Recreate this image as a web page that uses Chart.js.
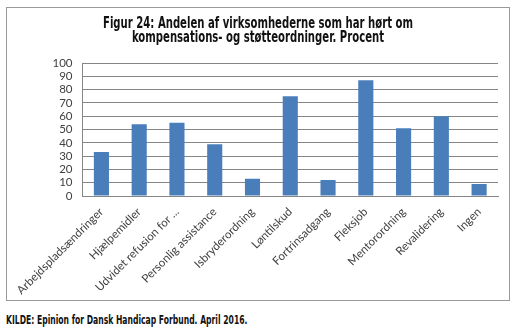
<!DOCTYPE html>
<html>
<head>
<meta charset="utf-8">
<script src="https://cdn.jsdelivr.net/npm/chart.js@4/dist/chart.umd.min.js"></script>
<style>
  html, body { margin: 0; padding: 0; background: #fff; }
  body { width: 519px; height: 328px; position: relative; overflow: hidden; }
  #frame { position: absolute; left: 6px; top: 7px; width: 502px; height: 292px; border: 1px solid #9a9a9a; }
  #frame canvas { position: absolute; left: 0; top: 0; }
  #source { position: absolute; left: 6px; top: 312px; font: bold 12.5px "DejaVu Sans Condensed", "DejaVu Sans", sans-serif; color: #111;
            white-space: nowrap; transform: scaleX(0.68); transform-origin: 0 0; }
</style>
</head>
<body>
<div id="frame"><canvas id="c" width="502" height="292"></canvas></div>
<div id="source">KILDE: Epinion for Dansk Handicap Forbund. April 2016.</div>
<script>
// Kendskab til ordninger (andel af virksomheder, procent)
const categories = [
  "Arbejdspladsændringer",
  "Hjælpemidler",
  "Udvidet refusion for ...",
  "Personlig assistance",
  "Isbryderordning",
  "Løntilskud",
  "Fortrinsadgang",
  "Fleksjob",
  "Mentorordning",
  "Revalidering",
  "Ingen"
];
const values = [33, 54, 55, 39, 13, 75, 12, 87, 51, 60, 9];
const titleLines = [
  "Figur 24: Andelen af virksomhederne som har hørt om",
  "kompensations- og støtteordninger. Procent"
];
const yMin = 0, yMax = 100, yStep = 10;

// Two-line heading in a narrow bold face, squeezed horizontally
const titlePlugin = {
  id: "figTitle",
  afterDraw(chart) {
    const ctx = chart.ctx;
    ctx.save();
    ctx.font = 'bold 15px "DejaVu Sans Condensed", "DejaVu Sans", sans-serif';
    ctx.fillStyle = "#111";
    ctx.textAlign = "center";
    ctx.textBaseline = "middle";
    const w0 = ctx.measureText(titleLines[0]).width;
    const sx = 310 / w0;
    const cx = 251;
    titleLines.forEach((t, i) => {
      ctx.save();
      ctx.translate(cx, 16 + i * 14);
      ctx.scale(sx, 1);
      ctx.fillText(t, 0, 0);
      ctx.restore();
    });
    ctx.restore();
  }
};

new Chart(document.getElementById("c"), {
  type: "bar",
  data: {
    labels: categories,
    datasets: [{
      data: values,
      backgroundColor: "#4a7ebb",
      borderWidth: 0,
      barPercentage: 0.4,
      categoryPercentage: 1.0
    }]
  },
  options: {
    responsive: false,
    animation: false,
    layout: { padding: { top: 55, right: 11, bottom: 0, left: 0 } },
    plugins: { legend: { display: false }, tooltip: { enabled: false }, title: { display: false } },
    scales: {
      x: {
        grid: { display: false, drawTicks: false },
        border: { color: "#868686", width: 1 },
        ticks: {
          color: "#404040",
          font: { family: "Lato", size: 11.5 },
          minRotation: 45,
          maxRotation: 45,
          autoSkip: false,
          padding: 9
        },
        afterFit(scale) { scale.height = 104; }
      },
      y: {
        min: yMin,
        max: yMax,
        grid: { color: "#858585", lineWidth: 1, drawTicks: false },
        border: { color: "#868686", width: 1 },
        ticks: {
          stepSize: yStep,
          autoSkip: false,
          maxTicksLimit: 20,
          color: "#404040",
          font: { family: "Lato", size: 11.5, lineHeight: 1 },
          padding: 10
        },
        afterFit(scale) { scale.width = 66; }
      }
    }
  },
  plugins: [titlePlugin]
});
</script>
</body>
</html>
